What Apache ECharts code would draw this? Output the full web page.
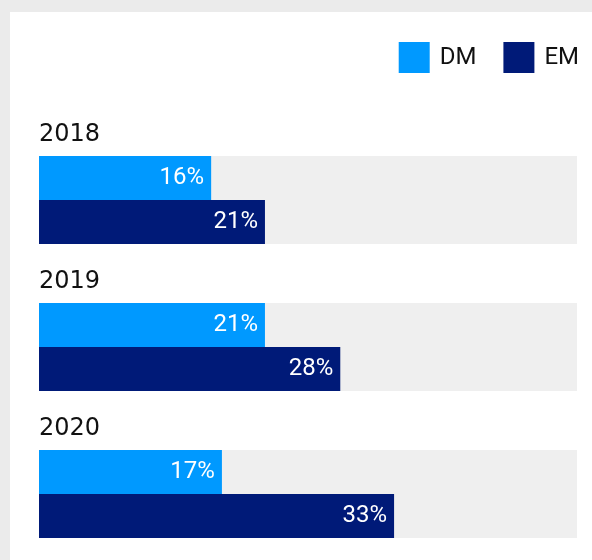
<!DOCTYPE html>
<html>
<head>
<meta charset="utf-8">
<title>DM vs EM</title>
<script src="https://cdn.jsdelivr.net/npm/echarts@6/dist/echarts.min.js"></script>
<style>
  html, body { margin: 0; padding: 0; background: #ebebeb; }
  body { width: 592px; height: 560px; position: relative; overflow: hidden; }
  #panel { position: absolute; left: 10px; top: 12px; width: 582px; height: 548px; background: #ffffff; }
  #chart { position: absolute; left: 0; top: 0; width: 592px; height: 600px; }
</style>
</head>
<body>
<div id="panel"></div>
<div id="chart"></div>
<script>
// Years shown as groups, one bar per market type
const years = ['2018', '2019', '2020'];
const seriesNames = ['DM', 'EM'];
const dmValues = [16, 21, 17];
const emValues = [21, 28, 33];
const axisMax = 50;

const colors = { DM: '#0099ff', EM: '#001a78' };
const labelFont = 'Roboto, "Noto Sans", sans-serif';

const chart = echarts.init(document.getElementById('chart'), null, { renderer: 'canvas' });

function barSeries(name, values) {
  return {
    name: name,
    type: 'bar',
    data: values,
    barWidth: 44,
    barGap: '0%',
    itemStyle: { color: colors[name] },
    showBackground: true,
    backgroundStyle: { color: '#efefef' },
    label: {
      show: true,
      position: 'insideRight',
      distance: 7,
      formatter: '{c}%',
      color: '#ffffff',
      fontFamily: labelFont,
      fontSize: 24
    }
  };
}

chart.setOption({
  animation: false,
  legend: {
    data: seriesNames,
    right: 8,
    top: 37,
    itemWidth: 31,
    itemHeight: 31,
    itemGap: 27,
    icon: 'rect',
    textStyle: {
      fontFamily: labelFont,
      fontSize: 24,
      color: '#111111',
      padding: [0, 0, 0, 5]
    }
  },
  grid: {
    left: 39,
    right: 15,
    top: 126.5,
    height: 441,
    containLabel: false
  },
  xAxis: {
    type: 'value',
    min: 0,
    max: axisMax,
    show: false
  },
  yAxis: {
    type: 'category',
    data: years,
    inverse: true,
    axisLine: { show: false },
    axisTick: { show: false },
    splitLine: { show: false },
    axisLabel: {
      show: true,
      inside: true,
      interval: 0,
      hideOverlap: false,
      margin: 0,
      align: 'left',
      verticalAlign: 'bottom',
      lineHeight: 28,
      padding: [0, 0, 51, 0],
      color: '#111111',
      fontFamily: '"DejaVu Sans", sans-serif',
      fontSize: 24
    }
  },
  series: [barSeries('DM', dmValues), barSeries('EM', emValues)]
});
</script>
</body>
</html>
